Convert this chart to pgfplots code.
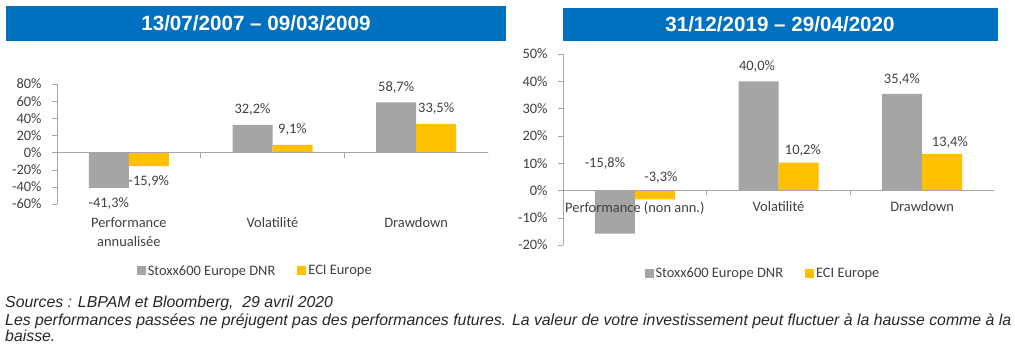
\documentclass[border=0pt]{standalone}
\usepackage{fontspec}
\setmainfont{Carlito}
\newfontfamily\arial{Liberation Sans}
\usepackage{pgfplots}
\pgfplotsset{compat=1.18}
\definecolor{barGray}{HTML}{A5A5A5}
\definecolor{barYellow}{HTML}{FFC000}
\definecolor{titleBlue}{HTML}{0070C0}
\definecolor{axGray}{HTML}{A6A6A6}
\definecolor{txt}{HTML}{404040}
\definecolor{foot}{HTML}{262626}

\pgfplotsset{
  mychart/.style={
    scale only axis, width=431bp,
    ybar=0pt, bar width=40bp,
    xmin=-0.5, xmax=2.5, xtick={0,1,2},
    axis y line*=left,
    y axis line style={axGray},
    tick align=outside,
    major tick length=5bp,
    ytick style={axGray},
    xtick style={draw=none},
    tick label style={font=\fontsize{14.5}{19}\selectfont, text=txt},
    yticklabel style={xshift=-7bp},
    legend style={draw=none, fill=none, legend columns=2,
      font=\fontsize{14.5}{16}\selectfont, text=txt,
      /tikz/every even column/.append style={column sep=20bp}},
    legend image code/.code={\fill[##1] (0bp,-4.5bp) rectangle (9bp,4.5bp);},
  }
}

\begin{document}
\begin{tikzpicture}
\path (0,0) rectangle (1015bp,352bp);
% title bars
\fill[titleBlue] (6bp,311bp) rectangle (506bp,346bp);
\node[text=white, font=\arial\bfseries\fontsize{20.7}{24}\selectfont] at (256bp,328.5bp) {13/07/2007 – 09/03/2009};
\fill[titleBlue] (563bp,311bp) rectangle (998bp,344bp);
\node[text=white, font=\arial\bfseries\fontsize{20.7}{24}\selectfont] at (780bp,327.5bp) {31/12/2019 – 29/04/2020};

% left chart
\begin{axis}[mychart, at={(57bp,148bp)}, anchor=south west, height=120bp,
  ymin=-60, ymax=80, ytick={-60,-40,...,80},
  yticklabels={-60\%,-40\%,-20\%,0\%,20\%,40\%,60\%,80\%},
  axis x line*=bottom, x axis line style={draw=none},
  xticklabels={Performance\\annualisée, Volatilité, Drawdown},
  xticklabel style={align=center, yshift=-5bp},
  nodes near coords={\pgfmathprintnumber[fixed,fixed zerofill,precision=1,use comma,assume math mode=true]{\pgfplotspointmeta}\%},
  every node near coord/.append style={font=\fontsize{14.5}{16}\selectfont, text=txt, inner xsep=0pt, inner ysep=9bp},
  legend style={at={(0.46,-0.558)}, anchor=center},
]
\addplot[fill=barGray, draw=none] coordinates {(0,-41.3) (1,32.2) (2,58.7)};
\addplot[fill=barYellow, draw=none] coordinates {(0,-15.9) (1,9.1) (2,33.5)};
\legend{Stoxx600 Europe DNR, ECI Europe}
\draw[axGray] (axis cs:-0.5,0) -- (axis cs:2.5,0);
\draw[axGray] (axis cs:0.5,0) -- ([yshift=-5bp]axis cs:0.5,0);
\draw[axGray] (axis cs:1.5,0) -- ([yshift=-5bp]axis cs:1.5,0);
\draw[axGray] (axis cs:2.5,0) -- ([yshift=-5bp]axis cs:2.5,0);
\end{axis}

% right chart
\begin{axis}[mychart, at={(563bp,107bp)}, anchor=south west, height=191bp,
  ymin=-20, ymax=50, ytick={-20,-10,...,50},
  yticklabels={-20\%,-10\%,0\%,10\%,20\%,30\%,40\%,50\%},
  axis x line*=middle, x axis line style={axGray},
  xticklabels={Performance (non ann.), Volatilité, Drawdown},
  xticklabel style={yshift=-3bp},
  axis on top,
  legend style={at={(0.464,-0.147)}, anchor=center},
]
\addplot[fill=barGray, draw=none] coordinates {(0,-15.8) (1,40.0) (2,35.4)};
\addplot[fill=barYellow, draw=none] coordinates {(0,-3.3) (1,10.2) (2,13.4)};
\legend{Stoxx600 Europe DNR, ECI Europe}
\draw[axGray] (axis cs:0.5,0) -- ([yshift=-5bp]axis cs:0.5,0);
\draw[axGray] (axis cs:1.5,0) -- ([yshift=-5bp]axis cs:1.5,0);
\draw[axGray] (axis cs:2.5,0) -- ([yshift=-5bp]axis cs:2.5,0);
\begin{scope}[every node/.style={font=\fontsize{14.5}{16}\selectfont, text=txt}]
\node at (axis cs:-0.208,9.9) {-15,8\%};
\node at (axis cs:0.182,4.76) {-3,3\%};
\node at (axis cs:0.85,45.4) {40,0\%};
\node at (axis cs:1.17,14.65) {10,2\%};
\node at (axis cs:1.859,40.66) {35,4\%};
\node at (axis cs:2.193,17.6) {13,4\%};
\end{scope}
\end{axis}

% footer
\begin{scope}[every node/.style={anchor=base west, inner sep=0pt, text=foot, font=\arial\itshape\fontsize{15.9}{17}\selectfont}]
\node at (5bp,44bp) {Sources : LBPAM et Bloomberg,\ \ 29 avril 2020};
\node at (5bp,27bp) {Les performances passées ne préjugent pas des performances futures. La valeur de votre investissement peut fluctuer à la hausse comme à la};
\node at (5bp,11bp) {baisse.};
\end{scope}
\end{tikzpicture}
\end{document}
